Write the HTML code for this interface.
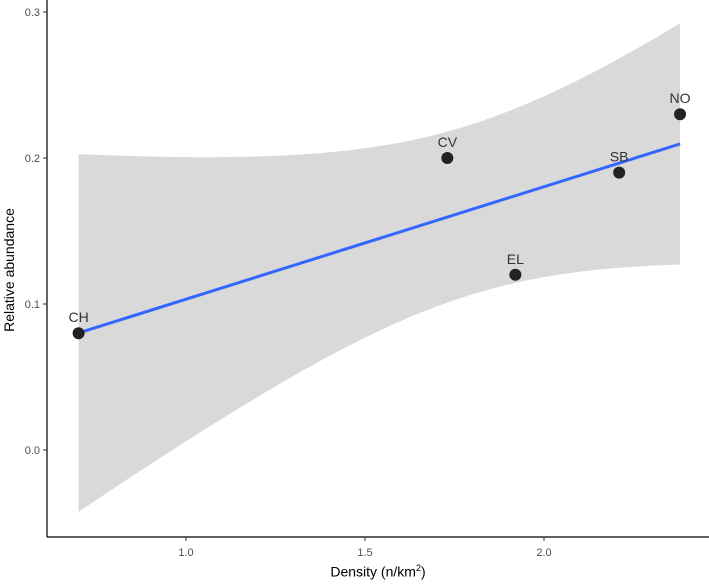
<!DOCTYPE html>
<html><head><meta charset="utf-8"><style>
body{margin:0;background:#fff;}
svg{display:block;font-family:"Liberation Sans",sans-serif;}
</style></head><body>
<svg id="chart" width="709" height="584"></svg>
<script>
const labels=["CH","CV","EL","SB","NO"];
const xs=[0.70,1.73,1.92,2.21,2.38];
const ys=[0.08,0.20,0.12,0.19,0.23];
const xTicks=[1.0,1.5,2.0];
const xTickLabels=["1.0","1.5","2.0"];
const yTicks=[0.0,0.1,0.2,0.3];
const yTickLabels=["0.0","0.1","0.2","0.3"];
const NS="http://www.w3.org/2000/svg";
const svg=document.getElementById('chart');
const X=v=>186+(v-1.0)*358;
const Y=v=>450-v*1460;
const AXY=537;
function mk(t,a,p){const e=document.createElementNS(NS,t);for(const k in a)e.setAttribute(k,a[k]);(p||svg).appendChild(e);return e;}
const n=xs.length,mx=xs.reduce((a,b)=>a+b)/n,my=ys.reduce((a,b)=>a+b)/n;
let sxx=0,sxy=0;for(let i=0;i<n;i++){sxx+=(xs[i]-mx)**2;sxy+=(xs[i]-mx)*(ys[i]-my);}
const b=sxy/sxx,a=my-b*mx;let sse=0;for(let i=0;i<n;i++)sse+=(ys[i]-a-b*xs[i])**2;
const s=Math.sqrt(sse/(n-2)),t=3.182;
const x0=Math.min(...xs),x1=Math.max(...xs);
let up=[],lo=[];
for(let k=0;k<=80;k++){const x=x0+(x1-x0)*k/80,f=a+b*x,se=t*s*Math.sqrt(1/n+(x-mx)**2/sxx);
up.push(X(x).toFixed(1)+","+Y(f+se).toFixed(1));lo.unshift(X(x).toFixed(1)+","+Y(f-se).toFixed(1));}
const band=mk('polygon',{points:up.concat(lo).join(" "),fill:"#d9d9d9"});


const line=mk('line',{x1:X(x0),y1:Y(a+b*x0),x2:X(x1),y2:Y(a+b*x1),stroke:"#3366ff","stroke-width":3});


for(let i=0;i<n;i++){
const c=mk('circle',{cx:X(xs[i]),cy:Y(ys[i]),r:6,fill:"#222"});


const tx=mk('text',{x:X(xs[i]),y:Y(ys[i])-11,"text-anchor":"middle","font-size":14,fill:"#333"});tx.textContent=labels[i];


}
const ax=mk('line',{x1:47,y1:AXY,x2:709,y2:AXY,stroke:"#000","stroke-width":1.2});


const ay=mk('line',{x1:47,y1:0,x2:47,y2:AXY,stroke:"#000","stroke-width":1.2});


xTicks.forEach((v,i)=>{mk('line',{x1:X(v),y1:AXY,x2:X(v),y2:AXY+4,stroke:"#333"});
const tl=mk('text',{x:X(v),y:AXY+19,"text-anchor":"middle","font-size":11,fill:"#4d4d4d"});tl.textContent=xTickLabels[i];

});
yTicks.forEach((v,i)=>{mk('line',{x1:43,y1:Y(v),x2:47,y2:Y(v),stroke:"#333"});
const tl=mk('text',{x:40,y:Y(v)+4,"text-anchor":"end","font-size":11,fill:"#4d4d4d"});tl.textContent=yTickLabels[i];

});
</script>
<div style="position:absolute;left:47px;width:662px;top:563px;text-align:center;font:14px 'Liberation Sans',sans-serif;">Density (n/km<sup style="font-size:9px">2</sup>)</div>
<div style="position:absolute;left:-66px;top:262px;width:150px;text-align:center;transform:rotate(-90deg);font:14px 'Liberation Sans',sans-serif;">Relative abundance</div>
</body></html>
